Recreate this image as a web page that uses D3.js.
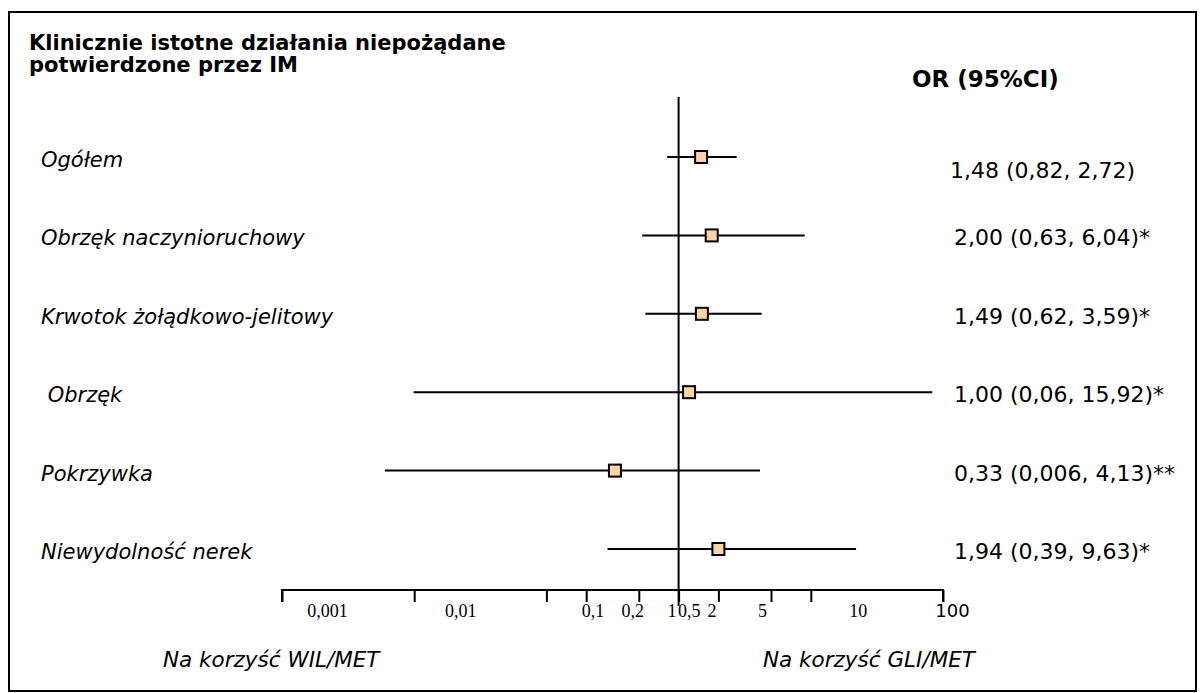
<!DOCTYPE html>
<html>
<head>
<meta charset="utf-8">
<script src="https://cdn.jsdelivr.net/npm/d3@7"></script>
<style>
  body { margin: 0; background: #fff; }
  svg { display: block; }
</style>
</head>
<body>
<div id="chart"></div>
<script>
// Forest plot: OR with 95% CI on a log axis

const outcomes = [
  "Ogółem",
  "Obrzęk naczynioruchowy",
  "Krwotok żołądkowo-jelitowy",
  " Obrzęk",
  "Pokrzywka",
  "Niewydolność nerek"
];
const orText = [
  "1,48 (0,82, 2,72)",
  "2,00 (0,63, 6,04)*",
  "1,49 (0,62, 3,59)*",
  "1,00 (0,06, 15,92)*",
  "0,33 (0,006, 4,13)**",
  "1,94 (0,39, 9,63)*"
];
// values as drawn in the figure
const orPoint = [1.48, 1.78, 1.50, 1.20, 0.33, 2.0];
const ciLow   = [0.82, 0.53, 0.56, 0.0099, 0.006, 0.29];
const ciHigh  = [2.75, 9.0, 4.25, 83, 4.13, 22];

const tickValues = [0.001, 0.01, 0.1, 0.2, 0.5, 1, 2, 5, 10, 100];
const tickLabels = ["0,001", "0,01", "0,1", "0,2", "0,5", "1", "2", "5", "10", "100"];

const width = 1204, height = 693;
const sans = "'DejaVu Sans', Verdana, sans-serif";

const svg = d3.select("#chart").append("svg")
  .attr("width", width)
  .attr("height", height);

// frame
svg.append("rect")
  .attr("x", 9).attr("y", 12)
  .attr("width", 1187).attr("height", 679)
  .attr("fill", "none")
  .attr("stroke", "#000")
  .attr("stroke-width", 2);

// scales
const x = d3.scaleLog().domain([0.001, 100]).range([282, 943]);
const y = d3.scalePoint().domain(d3.range(outcomes.length)).range([157, 549]);

// title
const title = svg.append("text")
  .attr("font-family", sans)
  .attr("font-weight", "bold")
  .attr("font-size", 21)
  .attr("fill", "#000");
title.append("tspan").attr("x", 29).attr("y", 50).text("Klinicznie istotne działania niepożądane");
title.append("tspan").attr("x", 29).attr("y", 72).text("potwierdzone przez IM");

svg.append("text")
  .attr("x", 912).attr("y", 87)
  .attr("font-family", sans)
  .attr("font-weight", "bold")
  .attr("font-size", 23)
  .text("OR (95%CI)");

// axis (labels sit offset from their ticks, as in the original)
const labelDx = [45, 46, 46, 46, 50, -7, -7, -9, 47, 9];
const axis = d3.axisBottom(x)
  .tickValues(tickValues)
  .tickSize(12)
  .tickSizeOuter(0)
  .tickPadding(2)
  .tickFormat((d, i) => tickLabels[i]);

const gAxis = svg.append("g")
  .attr("transform", "translate(0,590)")
  .call(axis);
gAxis.select(".domain").attr("stroke-width", 2).attr("d", `M${x(0.001)},12V0H${x(100)}V12`);
gAxis.selectAll(".tick line").attr("stroke-width", 2);
gAxis.selectAll(".tick text")
  .attr("x", (d, i) => labelDx[i])
  .attr("fill", "#000")
  .attr("font-family", (d, i) => i === tickValues.length - 1 ? sans : "'Liberation Serif', 'Times New Roman', serif")
  .attr("font-size", 18);

// null line at OR = 1
svg.append("line")
  .attr("x1", x(1)).attr("x2", x(1))
  .attr("y1", 97).attr("y2", 606)
  .attr("stroke", "#000")
  .attr("stroke-width", 2);

const rows = svg.append("g")
  .selectAll("g")
  .data(outcomes)
  .join("g");

rows.append("line")
  .attr("x1", (d, i) => x(ciLow[i]))
  .attr("x2", (d, i) => x(ciHigh[i]))
  .attr("y1", (d, i) => y(i))
  .attr("y2", (d, i) => y(i))
  .attr("stroke", "#000")
  .attr("stroke-width", 2);

rows.append("rect")
  .attr("x", (d, i) => x(orPoint[i]) - 6)
  .attr("y", (d, i) => y(i) - 6)
  .attr("width", 12)
  .attr("height", 12)
  .attr("fill", "#ffd3a8")
  .attr("stroke", "#000")
  .attr("stroke-width", 2);

rows.append("text")
  .attr("x", 41)
  .attr("y", (d, i) => y(i) + 10)
  .attr("font-family", sans)
  .attr("font-style", "italic")
  .attr("font-size", 21)
  .style("white-space", "pre")
  .text(d => d);

rows.append("text")
  .attr("x", (d, i) => i === 0 ? 950 : 954)
  .attr("y", (d, i) => y(i) + (i === 0 ? 21 : 10))
  .attr("font-family", sans)
  .attr("font-size", 22)
  .text((d, i) => orText[i]);

// footer
svg.append("text")
  .attr("x", 163).attr("y", 667)
  .attr("font-family", sans)
  .attr("font-style", "italic")
  .attr("font-size", 21.5)
  .text("Na korzyść WIL/MET");

svg.append("text")
  .attr("x", 763).attr("y", 667)
  .attr("font-family", sans)
  .attr("font-style", "italic")
  .attr("font-size", 21.5)
  .text("Na korzyść GLI/MET");
</script>
</body>
</html>
